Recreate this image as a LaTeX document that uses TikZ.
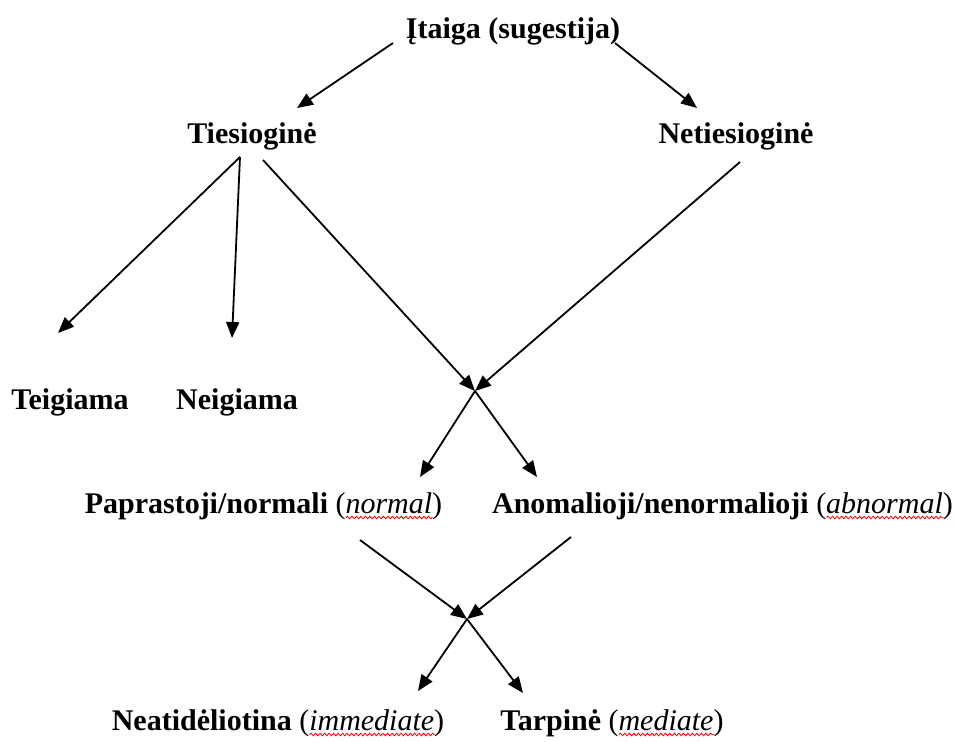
\documentclass[tikz,border=0pt]{standalone}
\usepackage{fontspec}
\setmainfont{Liberation Serif}
\usepackage{xcolor}
\usetikzlibrary{arrows.meta,decorations.pathmorphing}
\newsavebox\wavebox
\newcommand\spellwave[1]{\sbox\wavebox{#1}\rlap{\tikz[baseline=0pt, x=1pt, y=1pt]\draw[red, line width=0.8pt, decorate, decoration={snake, amplitude=1.3pt, segment length=4.5pt}] (0,-4.5) -- (\wd\wavebox,-4.5);}\usebox\wavebox}
\tikzset{
    term-label/.style = {font=\fontsize{30}{36}\selectfont, inner sep=0pt, anchor=base},
    link-arrow/.style = {-{Triangle[length=16pt, width=13pt]}, line width=1.8pt},
}

\begin{document}
\begin{tikzpicture}[x=1pt, y=-1pt]
\useasboundingbox (0,0) rectangle (959,742);
\node[term-label] (itaiga) at (513,38) {\textbf{Įtaiga (sugestija)}};
\node[term-label] (tiesiogine) at (252,143) {\textbf{Tiesioginė}};
\node[term-label] (netiesiogine) at (736,143) {\textbf{Netiesioginė}};
\node[term-label] (teigiama) at (70,409) {\textbf{Teigiama}};
\node[term-label] (neigiama) at (237,409) {\textbf{Neigiama}};
\node[term-label] (paprastoji) at (263.5,513) {\textbf{Paprastoji/normali} (\spellwave{\textit{normal}})};
\node[term-label] (anomalioji) at (722.5,513) {\textbf{Anomalioji/nenormalioji} (\spellwave{\textit{abnormal}})};
\node[term-label] (neatideliotina) at (278,730) {\textbf{Neatidėliotina} (\spellwave{\textit{immediate}})};
\node[term-label] (tarpine) at (612,730) {\textbf{Tarpinė} (\spellwave{\textit{mediate}})};
\coordinate (cross-upper) at (475,391);
\coordinate (cross-lower) at (467,619);

\draw[link-arrow] ([shift={(-120,5)}]itaiga.base) -- ([shift={(45,-35)}]tiesiogine.base);
\draw[link-arrow] ([shift={(102,5)}]itaiga.base) -- ([shift={(-39,-35)}]netiesiogine.base);
\draw[link-arrow] ([shift={(-12,14)}]tiesiogine.base) -- ([shift={(-12,-76)}]teigiama.base);
\draw[link-arrow] ([shift={(-12,14)}]tiesiogine.base) -- ([shift={(-5,-71)}]neigiama.base);
\draw[link-arrow] ([shift={(11,17)}]tiesiogine.base) -- (cross-upper);
\draw[link-arrow] ([shift={(4,19)}]netiesiogine.base) -- (cross-upper);
\draw[link-arrow] (cross-upper) -- ([shift={(156.5,-36)}]paprastoji.base);
\draw[link-arrow] (cross-upper) -- ([shift={(-185.5,-36)}]anomalioji.base);
\draw[link-arrow] ([shift={(96.5,27)}]paprastoji.base) -- (cross-lower);
\draw[link-arrow] ([shift={(-151.5,24)}]anomalioji.base) -- (cross-lower);
\draw[link-arrow] (cross-lower) -- ([shift={(140,-39)}]neatideliotina.base);
\draw[link-arrow] (cross-lower) -- ([shift={(-89,-37)}]tarpine.base);
\end{tikzpicture}
\end{document}
